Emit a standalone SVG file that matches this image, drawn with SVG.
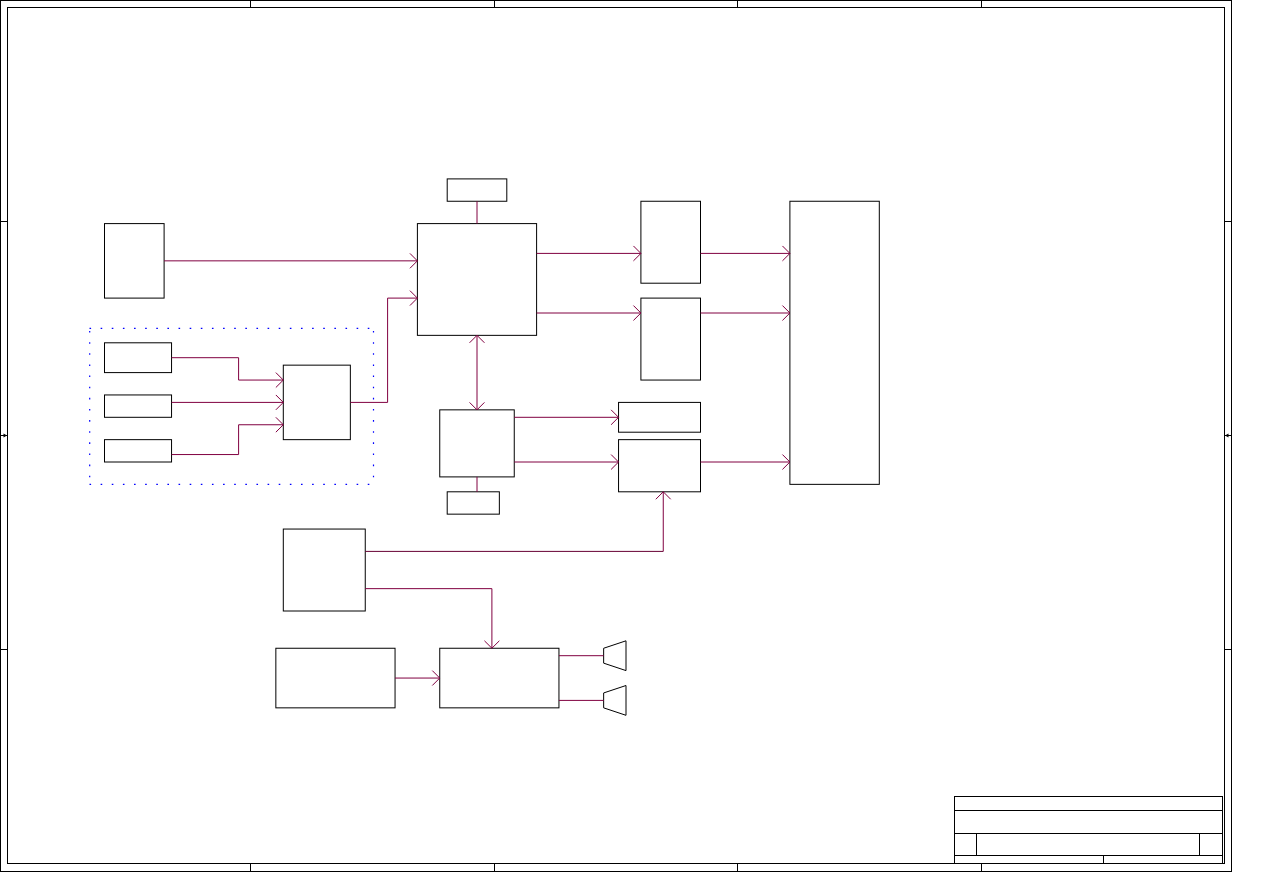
<svg xmlns="http://www.w3.org/2000/svg" width="1263" height="893" viewBox="0 0 1263 893">
<defs>
<style>
.b{fill:none;stroke:#000;stroke-width:1}
.n{fill:#fff;stroke:#000;stroke-width:1}
.w{fill:none;stroke:#800040;stroke-width:1}
.d{fill:none;stroke:#0000ff;stroke-width:1.2;stroke-dasharray:1.6 9.53}
</style>
<marker id="open" markerUnits="userSpaceOnUse" markerWidth="10" markerHeight="18" refX="8.45" refY="9" orient="auto-start-reverse" viewBox="0 0 10 18"><path d="M1 1.55 L8.45 9 L1 16.45" fill="none" stroke="#800040" stroke-width="1"/></marker>
</defs>
<rect width="1263" height="893" fill="#fff"/>
<g id="frame">
<rect class="b" x="0.5" y="0.5" width="1231" height="871"/>
<rect class="b" x="7.5" y="7.5" width="1217" height="856"/>
<path class="b" d="M250.5 0.5V7.5M494.5 0.5V7.5M737.5 0.5V7.5M981.5 0.5V7.5M250.5 864V871.5M494.5 864V871.5M737.5 864V871.5M981.5 864V871.5M0.5 221.5H7.5M0.5 649.5H7.5M1224.5 221.5H1231.5M1224.5 649.5H1231.5M0.5 435.5H7.5M1224.5 435.5H1231.5"/>
<path d="M7 435.5L3.5 433.5V437.5Z M1225 435.5L1228.5 433.5V437.5Z" fill="#000"/>
</g>
<g id="title-block">
<rect class="b" x="954.5" y="796.5" width="268" height="67"/>
<path class="b" d="M954.5 810.5H1222.5M954.5 833.5H1222.5M954.5 855.5H1222.5M976.5 833.5V855.5M1199.5 833.5V855.5M1103.5 855.5V863.5"/>
</g>
<g id="dashed-group">
<path class="d" d="M89.5 328.4H374"/>
<path class="d" d="M89.5 484.4H374"/>
<path class="d" d="M89.7 331V484"/>
<path class="d" d="M373.5 331V484"/>
</g>
<g id="n1"><rect class="n" x="447.2" y="178.9" width="59.6" height="22.35"/></g>
<g id="n2"><rect class="n" x="104.5" y="223.6" width="59.6" height="74.5"/></g>
<g id="n3"><rect class="n" x="417.4" y="223.6" width="119.2" height="111.75"/></g>
<g id="n4"><rect class="n" x="640.9" y="201.25" width="59.6" height="81.95"/></g>
<g id="n5"><rect class="n" x="640.9" y="298.1" width="59.6" height="81.95"/></g>
<g id="n6"><rect class="n" x="789.9" y="201.25" width="89.4" height="283.1"/></g>
<g id="n7"><rect class="n" x="104.5" y="342.8" width="67.05" height="29.8"/></g>
<g id="n8"><rect class="n" x="104.5" y="394.95" width="67.05" height="22.35"/></g>
<g id="n9"><rect class="n" x="104.5" y="439.65" width="67.05" height="22.35"/></g>
<g id="n10"><rect class="n" x="283.3" y="365.15" width="67.05" height="74.5"/></g>
<g id="n11"><rect class="n" x="439.75" y="409.85" width="74.5" height="67.05"/></g>
<g id="n12"><rect class="n" x="618.55" y="402.4" width="81.95" height="29.8"/></g>
<g id="n13"><rect class="n" x="618.55" y="439.65" width="81.95" height="52.15"/></g>
<g id="n14"><rect class="n" x="447.2" y="491.8" width="52.15" height="22.35"/></g>
<g id="n15"><rect class="n" x="283.3" y="529.05" width="81.95" height="81.95"/></g>
<g id="n16"><rect class="n" x="275.85" y="648.25" width="119.2" height="59.6"/></g>
<g id="n17"><rect class="n" x="439.75" y="648.25" width="119.2" height="59.6"/></g>
<g id="speaker1"><path class="n" d="M603.65 648.25L626 640.8V670.6L603.65 663.15Z"/></g>
<g id="speaker2"><path class="n" d="M603.65 692.95L626 685.5V715.3L603.65 707.85Z"/></g>
<g id="connectors">
<path class="w" d="M477 201.25V223.6"/>
<path class="w" d="M164.1 260.85H417.4" marker-end="url(#open)"/>
<path class="w" d="M350.35 402.4H387.6V298.1H417.4" marker-end="url(#open)"/>
<path class="w" d="M171.55 357.7H238.6V380.05H283.3" marker-end="url(#open)"/>
<path class="w" d="M171.55 402.4H283.3" marker-end="url(#open)"/>
<path class="w" d="M171.55 454.55H238.6V424.75H283.3" marker-end="url(#open)"/>
<path class="w" d="M536.6 253.4H640.9" marker-end="url(#open)"/>
<path class="w" d="M536.6 313H640.9" marker-end="url(#open)"/>
<path class="w" d="M700.5 253.4H789.9" marker-end="url(#open)"/>
<path class="w" d="M700.5 313H789.9" marker-end="url(#open)"/>
<path class="w" d="M700.5 462H789.9" marker-end="url(#open)"/>
<path class="w" d="M477 335.35V409.85" marker-start="url(#open)" marker-end="url(#open)"/>
<path class="w" d="M514.25 417.3H618.55" marker-end="url(#open)"/>
<path class="w" d="M514.25 462H618.55" marker-end="url(#open)"/>
<path class="w" d="M477 476.9V491.8"/>
<path class="w" d="M663.25 551.4V491.8" marker-end="url(#open)"/>
<path class="w" style="stroke:#660033" d="M365.25 551.4H663.25"/>
<path class="w" d="M365.25 588.65H491.9V648.25" marker-end="url(#open)"/>
<path class="w" d="M395.05 678.05H439.75" marker-end="url(#open)"/>
<path class="w" d="M558.95 655.7H603.65"/>
<path class="w" d="M558.95 700.4H603.65"/>
</g>
</svg>
